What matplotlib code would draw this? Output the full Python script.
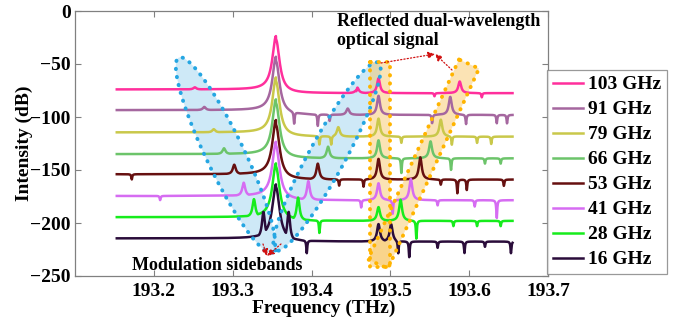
import numpy as np
import matplotlib.pyplot as plt
from matplotlib.patches import Polygon

labels = ['103 GHz', '91 GHz', '79 GHz', '66 GHz', '53 GHz', '41 GHz', '28 GHz', '16 GHz']
colors = ['#ff2f9c', '#a5679f', '#c9c84a', '#6cc46a', '#661010', '#d66cf2', '#16ec1c', '#2a0c3a']
rf_ghz = [103, 91, 79, 66, 53, 41, 28, 16]

base_left = [-74, -93.5, -114.5, -135, -154, -174.5, -194.5, -214.5]   # dB, left of carrier
base_right = [-77.5, -98, -118.5, -139, -159, -178.5, -198, -217.5]    # dB, right of carrier
carrier_peak = [-23.6, -43.1, -62.6, -83.3, -102.8, -123.3, -143.7, -163.5]
carrier_f = 193.355

side_left_h = [2, 3, 3, 5.5, 9, 12.5, 17, 25]     # dB above base
side_right_h = [6, 6, 9, 11, 15, 18, 22, 28]

refl_f = 193.485
refl1_h = [14, 18, 17, 17, 19.5, 16, 13, 16.5]
refl2_h = [11, 17, 16, 16, 21, 20, 20, 16.5]

# prominent downward spikes: (frequency THz, depth dB)
dips = [
    [(193.457, 3), (193.556, 3), (193.616, 4)],
    [(193.378, 11), (193.408, 11), (193.423, 6), (193.553, 8), (193.596, 9), (193.635, 8), (193.648, 8)],
    [(193.410, 8), (193.425, 8), (193.514, 6), (193.578, 8), (193.610, 6), (193.628, 7)],
    [(193.514, 14), (193.577, 11), (193.620, 5), (193.640, 5)],
    [(193.172, 5), (193.435, 6), (193.466, 7), (193.564, 5), (193.585, 13), (193.597, 10), (193.644, 6)],
    [(193.208, 4), (193.463, 7), (193.503, 13), (193.560, 5), (193.607, 6), (193.635, 17)],
    [(193.410, 12), (193.533, 17), (193.580, 5), (193.610, 5), (193.640, 5)],
    [(193.394, 12), (193.510, 12), (193.524, 15), (193.560, 6), (193.594, 11), (193.620, 5), (193.653, 11)],
]

f = np.linspace(193.153, 193.655, 3000)


def peak(f0, h, w):
    return h / (1 + ((f - f0) / w) ** 2)


plt.rcParams['font.family'] = ['Liberation Serif', 'DejaVu Serif']
plt.rcParams['font.weight'] = 'bold'

fig = plt.figure(figsize=(6.78, 3.24), dpi=100)
ax = fig.add_axes([75 / 678, 48 / 324, 473 / 678, 265 / 324])
ax.set_xlim(193.1, 193.7)
ax.set_ylim(-250, 0)


def px(x, y):
    # image pixel -> data coordinates
    return 193.1 + (x - 75) / 473 * 0.6, -(y - 11) / 265 * 250


for i in range(len(labels)):
    sb = rf_ghz[i] / 1000.0
    base = np.where(f < carrier_f, base_left[i], base_right[i])
    bump = peak(carrier_f, carrier_peak[i] - base_left[i], 0.0055)
    bump = np.maximum(bump, peak(carrier_f - sb, side_left_h[i], 0.0022))
    bump = np.maximum(bump, peak(carrier_f + sb, side_right_h[i], 0.0022))
    bump = np.maximum(bump, peak(refl_f, refl1_h[i], 0.0022))
    bump = np.maximum(bump, peak(refl_f + sb, refl2_h[i], 0.0022))
    y = base + bump
    for fd, d in dips[i]:
        y = y - peak(fd, d, 0.0007)
    ax.plot(f, y, color=colors[i], lw=1.8, label=labels[i], zorder=2)


def ellipse(p1, p2, length, width):
    c = (np.array(p1) + np.array(p2)) / 2
    u = np.array(p2) - np.array(p1)
    u = u / np.hypot(*u)
    v = np.array([-u[1], u[0]])
    t = np.linspace(0, 2 * np.pi, 120)
    pts = c + np.outer(np.cos(t) * length / 2, u) + np.outer(np.sin(t) * width / 2, v)
    return np.array([px(x, y) for x, y in pts])


def band(p1, p2, width):
    u = np.array(p2) - np.array(p1)
    u = u / np.hypot(*u)
    v = np.array([-u[1], u[0]]) * width / 2
    pts = [p1 + v, p2 + v, p2 - v, p1 - v]
    return np.array([px(x, y) for x, y in pts])


blue_shapes = [ellipse((180, 60), (271, 250), 216, 38),
               ellipse((377, 65), (277, 248), 214, 36)]
orange_shapes = [band(np.array([380.0, 62.0]), np.array([380.0, 267.0]), 20),
                 band(np.array([469.0, 64.0]), np.array([378.0, 264.0]), 22)]

for pts in blue_shapes:
    ax.add_patch(Polygon(pts, closed=True, facecolor='#9fd4f0', alpha=0.5,
                         edgecolor='none', zorder=1))
    e = Polygon(pts, closed=True, fill=False, edgecolor='#25a6e2', lw=2.8,
                linestyle=(0, (0.1, 2.0)), zorder=3)
    e.set_capstyle('round')
    ax.add_patch(e)
for pts in orange_shapes:
    ax.add_patch(Polygon(pts, closed=True, facecolor='#f8c35a', alpha=0.45,
                         edgecolor='none', zorder=1))
    e = Polygon(pts, closed=True, fill=False, edgecolor='#ffb400', lw=2.8,
                linestyle=(0, (0.1, 2.0)), zorder=3)
    e.set_capstyle('round')
    ax.add_patch(e)

# red dotted arrows
arrow = dict(arrowstyle='-|>', linestyle=':', color='#d01010', lw=0.9,
             mutation_scale=10, shrinkA=0, shrinkB=0)
for start, end in [((263, 244), (267, 256)), ((281, 244), (267, 256)),
                   ((381, 63), (435, 54)), ((452, 70), (435, 54))]:
    ax.annotate('', xy=px(*end), xytext=px(*start), arrowprops=arrow, zorder=4)

ax.text(*px(337, 13), 'Reflected dual-wavelength\noptical signal', fontsize=13,
        fontweight='bold', va='top', ha='left', linespacing=1.15, zorder=5)
ax.text(*px(132, 270), 'Modulation sidebands', fontsize=13, fontweight='bold',
        va='baseline', ha='left', zorder=5)

ax.set_xticks([193.2, 193.3, 193.4, 193.5, 193.6, 193.7])
ax.set_xticklabels(['193.2', '193.3', '193.4', '193.5', '193.6', '193.7'])
ax.set_yticks([0, -50, -100, -150, -200, -250])
ax.tick_params(direction='in', top=True, right=True, length=4, color='#808080',
               labelsize=14)
ax.tick_params(axis='x', pad=5)
ax.tick_params(axis='y', pad=3)
for s in ax.spines.values():
    s.set_color('#808080')
    s.set_linewidth(0.9)

ax.set_xlabel('Frequency (THz)', fontsize=14, fontweight='bold', labelpad=0, x=0.525)
ax.set_ylabel('Intensity (dB)', fontsize=14, fontweight='bold', labelpad=-2)

leg = fig.legend(loc='upper left', bbox_to_anchor=(547 / 678, 1 - 70 / 324),
                 fontsize=14, frameon=True, fancybox=False, handlelength=1.55,
                 handletextpad=0.25, labelspacing=0.38, borderpad=0.3,
                 borderaxespad=0)
leg.get_frame().set_edgecolor('#808080')
leg.get_frame().set_linewidth(0.9)

fig.savefig('out.png', dpi=100)
